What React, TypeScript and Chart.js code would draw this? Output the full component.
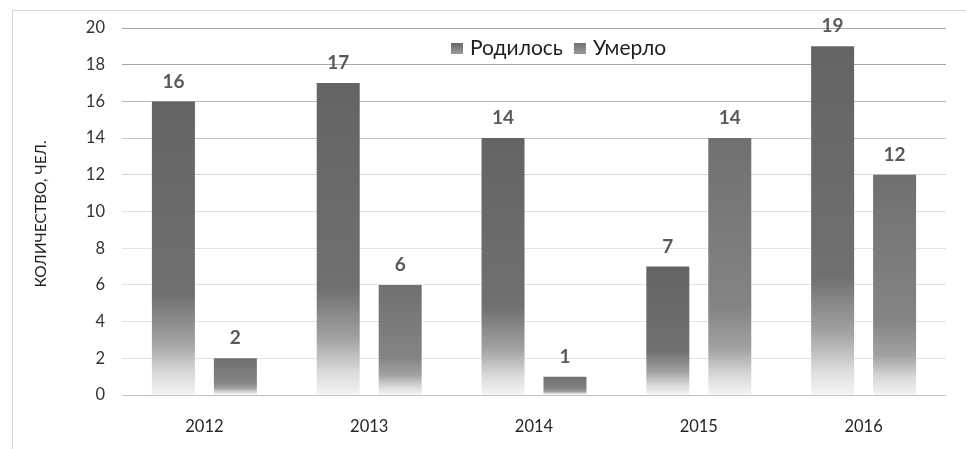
import React, { useEffect, useRef } from "react";
import { Chart, registerables } from "chart.js";

Chart.register(...registerables);

const categories = ["2012", "2013", "2014", "2015", "2016"];
const seriesNames = ["Родилось", "Умерло"];
const bornValues = [16, 17, 14, 7, 19];
const diedValues = [2, 6, 1, 14, 12];
const yMax = 20;
const yStep = 2;
const yTitle = "КОЛИЧЕСТВО, ЧЕЛ.";

const FONT = "Lato, 'Open Sans', sans-serif";

function makeGradient(topColor: string, midColor: string) {
  return (c: any) => {
    const chart = c.chart;
    const { ctx, chartArea, scales } = chart;
    if (!chartArea || c.type !== "data" || !scales || !scales.y) return topColor;
    const v = typeof c.raw === "number" ? c.raw : 0;
    const y0 = scales.y.getPixelForValue(0);
    const y1 = scales.y.getPixelForValue(v);
    if (!isFinite(y0) || !isFinite(y1) || y0 === y1) return topColor;
    const g = ctx.createLinearGradient(0, y1, 0, y0);
    g.addColorStop(0, topColor);
    g.addColorStop(0.66, midColor);
    g.addColorStop(0.82, "#a2a2a2");
    g.addColorStop(0.93, "#dcdcdc");
    g.addColorStop(1, "#f4f4f4");
    return g;
  };
}

function gridColor(c: any) {
  const v = c.tick ? c.tick.value : 0;
  if (v === 0) return "#bfbfbf";
  if (v <= 10) return "#e3e3e3";
  const t = Math.min(1, (v - 10) / 8);
  const l = Math.round(0xe3 - t * (0xe3 - 0xa8));
  const h = l.toString(16).padStart(2, "0");
  return "#" + h + h + h;
}

const overlayPlugin = {
  id: "overlay",
  beforeDraw(chart: any) {
    const { ctx } = chart;
    ctx.save();
    ctx.strokeStyle = "#d4d4d4";
    ctx.lineWidth = 1;
    ctx.beginPath();
    ctx.moveTo(12.5, 449);
    ctx.lineTo(12.5, 10.5);
    ctx.lineTo(966, 10.5);
    ctx.stroke();
    ctx.restore();
  },
  afterDraw(chart: any) {
    const { ctx, chartArea } = chart;
    ctx.save();
    // Y axis title
    ctx.translate(41, 214);
    ctx.rotate(-Math.PI / 2);
    ctx.font = `15.5px ${FONT}`;
    ctx.fillStyle = "#1f1f1f";
    ctx.textAlign = "center";
    ctx.textBaseline = "middle";
    ctx.fillText(yTitle, 0, 0);
    ctx.restore();

    // Legend
    ctx.save();
    ctx.font = `21px ${FONT}`;
    ctx.textBaseline = "middle";
    ctx.textAlign = "left";
    let x = chartArea.left + 329;
    const yMid = 48.5;
    chart.data.datasets.forEach((ds: any, i: number) => {
      const g = ctx.createLinearGradient(0, yMid - 6, 0, yMid + 6);
      g.addColorStop(0, i === 0 ? "#666666" : "#6e6e6e");
      g.addColorStop(1, "#9c9c9c");
      ctx.fillStyle = g;
      ctx.fillRect(x, yMid - 5.5, 12, 11);
      x += 19;
      ctx.fillStyle = "#1f1f1f";
      ctx.fillText(ds.label, x, yMid);
      x += ctx.measureText(ds.label).width + 11;
    });
    ctx.restore();
  },
  afterDatasetsDraw(chart: any) {
    const { ctx } = chart;
    ctx.save();
    ctx.font = `bold 19px ${FONT}`;
    ctx.fillStyle = "#595959";
    ctx.textAlign = "center";
    ctx.textBaseline = "middle";
    chart.data.datasets.forEach((ds: any, di: number) => {
      const meta = chart.getDatasetMeta(di);
      meta.data.forEach((bar: any, i: number) => {
        ctx.fillText(String(ds.data[i]), bar.x, bar.y - 20);
      });
    });
    ctx.restore();
  },
};

export default function App() {
  const ref = useRef<HTMLCanvasElement | null>(null);
  useEffect(() => {
    if (!ref.current) return;
    const chart = new Chart(ref.current, {
      type: "bar",
      data: {
        labels: categories,
        datasets: [
          {
            label: seriesNames[0],
            data: bornValues,
            backgroundColor: makeGradient("#646464", "#707070"),
            categoryPercentage: 0.752,
            barPercentage: 0.694,
          },
          {
            label: seriesNames[1],
            data: diedValues,
            backgroundColor: makeGradient("#707070", "#848484"),
            categoryPercentage: 0.752,
            barPercentage: 0.694,
          },
        ],
      },
      options: {
        responsive: false,
        animation: false,
        devicePixelRatio: 1,
        layout: { padding: { top: 28, right: 20, left: 0, bottom: 0 } },
        plugins: {
          legend: { display: false },
          tooltip: { enabled: false },
          title: { display: false },
        },
        scales: {
          x: {
            grid: { display: false },
            border: { display: false },
            ticks: {
              font: { family: FONT, size: 16.5 },
              color: "#262626",
              padding: 14,
              maxRotation: 0,
            },
            afterFit: (s: any) => {
              s.height = 54;
            },
          },
          y: {
            min: 0,
            max: yMax,
            border: { display: false },
            grid: { color: gridColor, drawTicks: false, lineWidth: 1 },
            ticks: {
              stepSize: yStep,
              font: { family: FONT, size: 16.5 },
              color: "#333333",
              padding: 17,
            },
            afterFit: (s: any) => {
              s.width = 122;
            },
          },
        },
      },
      plugins: [overlayPlugin],
    });
    return () => chart.destroy();
  }, []);
  return (
    <div style={{ position: "fixed", left: 0, top: 0, width: 966, height: 449, background: "#fff" }}>
      <canvas ref={ref} width={966} height={449} style={{ display: "block", width: 966, height: 449 }} />
    </div>
  );
}
